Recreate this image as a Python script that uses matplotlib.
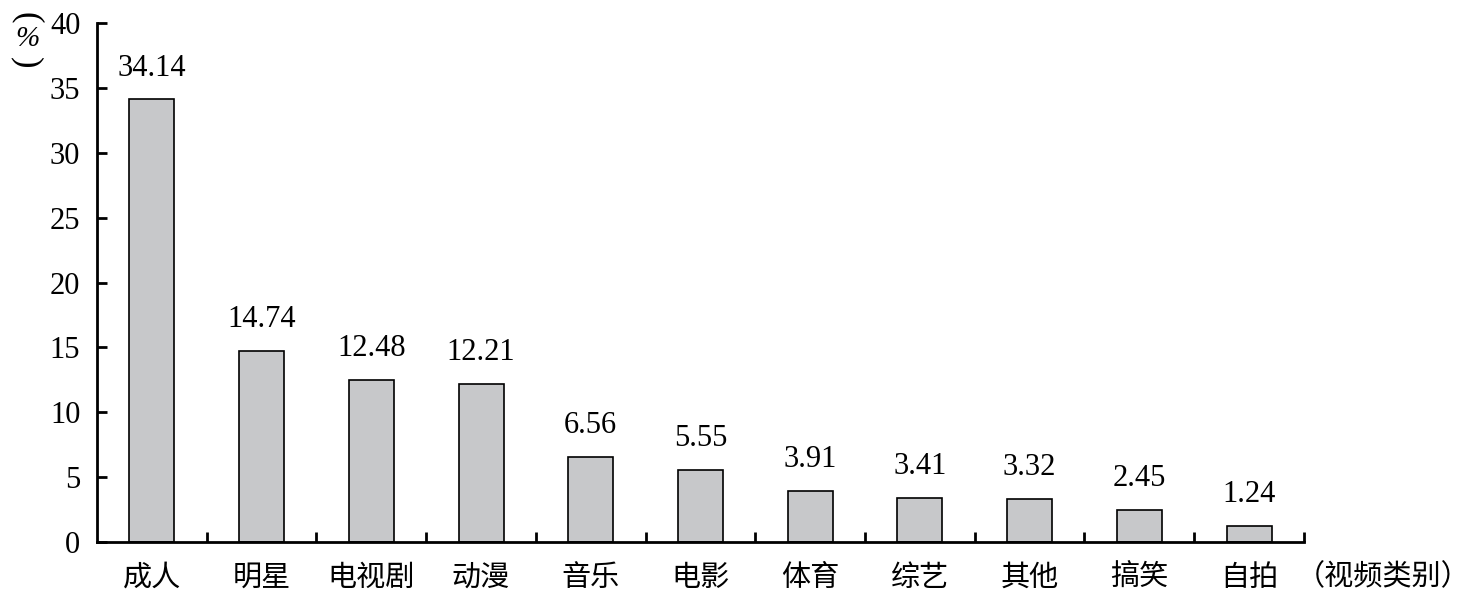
import matplotlib.pyplot as plt
import numpy as np

categories = ['成人', '明星', '电视剧', '动漫', '音乐', '电影', '体育', '综艺', '其他', '搞笑', '自拍']
values = [34.14, 14.74, 12.48, 12.21, 6.56, 5.55, 3.91, 3.41, 3.32, 2.45, 1.24]
yticks = [0, 5, 10, 15, 20, 25, 30, 35, 40]

cjk = ['Noto Sans CJK SC', 'DejaVu Sans']
num = ['Liberation Serif', 'DejaVu Serif']

fig = plt.figure(figsize=(14.7, 6.05), dpi=100)
ax = fig.add_axes([0.066, 0.1046, 0.821, 0.8567])

x = np.arange(len(categories))
ax.bar(x, values, width=0.41, color='#c7c8ca', edgecolor='black', linewidth=1.2)

for xi, v in zip(x, values):
    ax.annotate(f'{v:.2f}', xy=(xi, v), xytext=(0, 12), textcoords='offset points',
                ha='center', va='bottom', fontsize=22, family=num)

ax.set_xlim(-0.5, len(categories) - 0.5)
ax.set_ylim(0, 40)

ax.spines['top'].set_visible(False)
ax.spines['right'].set_visible(False)
for s in ['left', 'bottom']:
    ax.spines[s].set_linewidth(2)

ax.set_yticks(yticks)
ax.set_yticklabels([str(t) for t in yticks], fontsize=22, family=num)
ax.tick_params(axis='y', direction='in', length=7, width=2, pad=12)

# ticks between categories, labels at the centres
ax.set_xticks(np.arange(len(categories)) + 0.5)
ax.set_xticklabels([])
ax.tick_params(axis='x', which='major', direction='in', length=7, width=2)
ax.set_xticks(x, minor=True)
ax.set_xticklabels(categories, minor=True, fontsize=21, family=cjk)
ax.tick_params(axis='x', which='minor', length=0, pad=15)

ax.annotate('（视频类别）', xy=(len(categories) - 0.5, 0), xycoords=('data', 'axes fraction'),
            xytext=(-6, -15), textcoords='offset points', ha='left', va='top',
            fontsize=21, family=cjk)

# unit label: vertical parentheses around an upright %
fig.text(0.0180, 0.970, '(', rotation=-90, ha='center', va='center', fontsize=25, family=num)
fig.text(0.0184, 0.935, '%', ha='center', va='center', fontsize=21, family=num, style='italic')
fig.text(0.0180, 0.897, ')', rotation=-90, ha='center', va='center', fontsize=25, family=num)

fig.savefig('out.png', dpi=100)
